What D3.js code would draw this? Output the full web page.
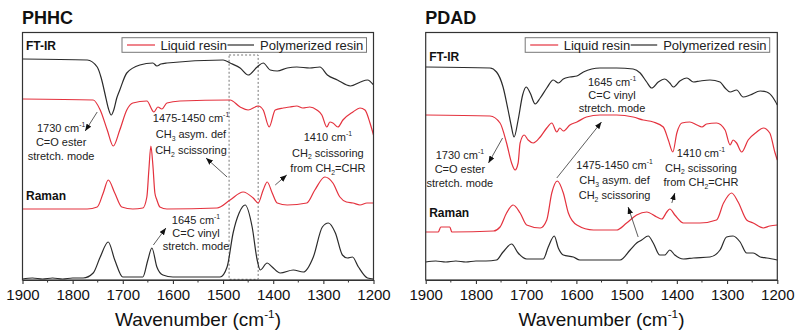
<!DOCTYPE html>
<html><head><meta charset="utf-8">
<script src="https://cdn.jsdelivr.net/npm/d3@7"></script>
<style>
body{margin:0;background:#fff;}
svg{display:block;font-family:"Liberation Sans",Arial,Helvetica,sans-serif;}
</style>
</head><body>
<svg id="c" width="797" height="334"></svg>
<script>
// ---------- data ----------
const panelTitles = ["PHHC", "PDAD"];
const seriesNames = ["Liquid resin", "Polymerized resin"];
const majorTicks = [1900, 1800, 1700, 1600, 1500, 1400, 1300, 1200];
const minorTicks = [1850, 1750, 1650, 1550, 1450, 1350, 1250];
const xTitle = "Wavenumber (cm^{-1})";

// [wavenumber, intensity (a.u., stacked)]
const phhcIrPolymer = [[1900,221],[1771,220],[1751,213],[1743,202],[1735,185],[1729,172],[1723,165],[1718,170],[1712,182],[1706,190],[1692,207],[1666,215],[1640,217],[1632,214],[1624,216],[1612,217],[1500,220],[1486,217],[1466,212],[1450,205],[1432,213],[1420,217],[1406,210],[1392,209],[1372,212],[1353,213],[1327,212],[1307,213],[1292,205],[1272,200],[1246,194],[1226,198],[1212,200],[1200,195]];
const phhcIrLiquid = [[1900,181],[1759,180],[1745,170],[1731,150],[1719,134],[1706,150],[1692,170],[1680,177],[1652,179],[1638,168],[1630,173],[1622,171],[1612,177],[1586,179],[1486,180],[1466,173],[1450,170],[1430,174],[1420,170],[1408,153],[1396,170],[1380,172],[1367,173],[1353,174],[1341,172],[1327,173],[1313,170],[1303,165],[1293,153],[1287,158],[1281,157],[1271,153],[1261,160],[1241,168],[1227,172],[1217,170],[1207,157],[1200,145]];
const phhcRamanLiquid = [[1900,71],[1771,71],[1751,73],[1739,87],[1729,100],[1716,87],[1702,73],[1680,71],[1660,72],[1652,83],[1648,110],[1644,134],[1640,115],[1636,87],[1632,80],[1626,73],[1612,71],[1512,72],[1486,80],[1460,88],[1440,82],[1430,77],[1420,90],[1412,98],[1402,87],[1392,77],[1372,75],[1333,77],[1317,90],[1297,103],[1281,97],[1267,83],[1254,78],[1241,77],[1227,75],[1213,77],[1200,77]];
const phhcRamanPolymer = [[1900,1],[1880,2],[1860,1],[1840,2],[1820,1],[1800,2],[1779,2],[1759,7],[1745,23],[1729,38],[1716,20],[1700,3],[1660,3],[1650,20],[1642,32],[1632,13],[1620,5],[1600,3],[1506,3],[1492,13],[1480,47],[1468,67],[1456,75],[1442,53],[1432,20],[1426,10],[1412,17],[1402,13],[1386,7],[1360,10],[1340,8],[1320,23],[1302,53],[1290,57],[1276,47],[1262,25],[1252,22],[1242,23],[1230,13],[1212,2],[1200,1]];

const pdadIrPolymer = [[1900,213],[1772,212],[1759,208],[1746,193],[1736,170],[1730,155],[1724,143],[1716,160],[1707,185],[1700,193],[1692,187],[1682,176],[1672,182],[1659,192],[1646,200],[1636,197],[1626,201],[1613,203],[1599,204],[1586,208],[1553,212],[1520,212],[1487,211],[1473,207],[1460,198],[1450,192],[1437,198],[1424,201],[1414,197],[1407,193],[1394,199],[1380,202],[1367,198],[1354,199],[1334,200],[1314,198],[1304,192],[1294,188],[1281,190],[1268,183],[1254,185],[1234,189],[1221,188],[1208,182],[1200,175]];
const pdadIrLiquid = [[1900,165],[1772,164],[1752,157],[1739,137],[1729,117],[1722,110],[1716,117],[1712,137],[1704,145],[1696,140],[1686,137],[1672,143],[1659,152],[1649,157],[1639,148],[1633,152],[1626,149],[1613,155],[1599,158],[1580,163],[1553,165],[1520,165],[1487,163],[1467,160],[1447,158],[1427,153],[1417,140],[1408,128],[1400,147],[1390,157],[1374,158],[1360,155],[1350,153],[1341,156],[1321,157],[1304,150],[1294,135],[1288,140],[1281,137],[1271,128],[1258,140],[1241,148],[1228,152],[1215,147],[1205,128],[1200,120]];
const pdadRamanLiquid = [[1900,48],[1875,48],[1870,53],[1852,53],[1848,48],[1765,49],[1752,53],[1739,67],[1726,75],[1712,67],[1699,55],[1672,52],[1659,60],[1649,87],[1638,99],[1626,87],[1616,67],[1599,55],[1566,50],[1520,50],[1500,57],[1480,65],[1460,68],[1440,63],[1430,61],[1420,68],[1414,71],[1404,65],[1387,57],[1354,57],[1321,60],[1307,77],[1291,87],[1278,78],[1261,60],[1248,57],[1228,52],[1215,54],[1200,55]];
const pdadRamanPolymer = [[1900,18],[1880,19],[1860,18],[1840,19],[1820,18],[1800,19],[1780,19],[1759,20],[1746,28],[1729,36],[1716,27],[1699,21],[1666,21],[1656,33],[1644,44],[1636,32],[1626,25],[1606,23],[1593,20],[1513,20],[1493,30],[1480,37],[1470,40],[1457,44],[1447,37],[1434,25],[1424,25],[1414,30],[1404,25],[1387,21],[1367,22],[1334,23],[1314,30],[1301,43],[1288,44],[1274,38],[1261,27],[1248,27],[1234,23],[1221,22],[1200,20]];

// highlighted region (PHHC): wavenumber range & intensity range
const phhcBoxWn = [1488, 1430];
const phhcBoxInt = [225, 0.7];

// annotations: anchor [wn, intensity] of first baseline, text lines, arrow [from, to]
const phhcNotes = [
  {at:[1823,148], lh:14, lines:["1730 cm^{-1}","C=O ester","stretch. mode"], arrow:[[1751,168],[1775,149]]},
  {at:[1564,158], lh:16, lines:["1475-1450 cm^{-1}","CH_{3} asym. def","CH_{2} scissoring"], arrow:[[1492,103],[1534,122]]},
  {at:[1291,139], lh:15.5, lines:["1410 cm^{-1}","CH_{2} scissoring","from CH_{2}=CHR"], arrow:[[1396,95],[1373,105]]},
  {at:[1554,56], lh:13, lines:["1645 cm^{-1}","C=C vinyl","stretch. mode"], arrow:[[1639,35],[1614,52]]}
];
const pdadNotes = [
  {at:[1529,194], lh:13, lines:["1645 cm^{-1}","C=C vinyl","stretch. mode"], arrow:[[1639,102],[1550,158]]},
  {at:[1832,121], lh:14, lines:["1730 cm^{-1}","C=O ester","stretch. mode"], arrow:[[1747,142],[1775,117]]},
  {at:[1524,111], lh:15, lines:["1475-1450 cm^{-1}","CH_{3} asym. def","CH_{2} scissoring"], arrow:[[1477,43],[1497,73]]},
  {at:[1352,123], lh:14.5, lines:["1410 cm^{-1}","CH_{2} scissoring","from CH_{2}=CHR"], arrow:[[1410,77],[1404,87]]}
];

// ---------- drawing ----------
const RED = "#e4323e", BLACK = "#2b2b2b";
const svg = d3.select("#c");
svg.append("rect").attr("width",797).attr("height",334).attr("fill","#fff");

const defs = svg.append("defs");
defs.append("marker").attr("id","ah").attr("viewBox","0 0 10 8")
  .attr("refX",10).attr("refY",4).attr("markerWidth",7).attr("markerHeight",5.6)
  .attr("markerUnits","userSpaceOnUse").attr("orient","auto")
  .append("path").attr("d","M0,0 L10,4 L0,8 Z").attr("fill","#111");

function richText(sel, str, fs){
  // parse ^{..} and _{..}
  const re = /(\^\{[^}]*\}|_\{[^}]*\})/g;
  const parts = str.split(re).filter(s=>s.length);
  let shift = 0;
  parts.forEach(p=>{
    let t = p, target = 0, small = false;
    if (p.startsWith("^{")) { t = p.slice(2,-1); target = -0.42*fs; small = true; }
    else if (p.startsWith("_{")) { t = p.slice(2,-1); target = 0.25*fs; small = true; }
    const ts = sel.append("tspan").text(t).attr("dy", target - shift);
    if (small) ts.attr("font-size", fs*0.62);
    shift = target;
  });
}

const panels = [
  {title:panelTitles[0], x0:22.5, x1:373.5, ir:[phhcIrLiquid, phhcIrPolymer], raman:[phhcRamanLiquid, phhcRamanPolymer], notes:phhcNotes, box:true, ftirY:49.5, ramanY:199.5},
  {title:panelTitles[1], x0:425.7, x1:777.3, ir:[pdadIrLiquid, pdadIrPolymer], raman:[pdadRamanLiquid, pdadRamanPolymer], notes:pdadNotes, box:false, ftirY:61, ramanY:217}
];
const yTop = 32.5, yBot = 280;

panels.forEach(P=>{
  const g = svg.append("g");
  const x = d3.scaleLinear().domain([1900,1200]).range([P.x0, P.x1]);
  const y = d3.scaleLinear().domain([0, yBot-yTop]).range([yBot, yTop]);

  const line = d3.line().x(d=>x(d[0])).y(d=>y(d[1])).curve(d3.curveMonotoneX);

  // highlighted box
  if (P.box) {
    g.append("rect")
      .attr("x", x(phhcBoxWn[0])).attr("y", y(phhcBoxInt[0]))
      .attr("width", x(phhcBoxWn[1]) - x(phhcBoxWn[0]))
      .attr("height", y(phhcBoxInt[1]) - y(phhcBoxInt[0]))
      .attr("fill","none").attr("stroke","#777").attr("stroke-width",1)
      .attr("stroke-dasharray","2,2");
  }

  // spectra
  [[P.ir[1],BLACK],[P.ir[0],RED],[P.raman[0],RED],[P.raman[1],BLACK]].forEach(([d,c])=>{
    g.append("path").datum(d).attr("d",line).attr("fill","none")
      .attr("stroke",c).attr("stroke-width",1.2).attr("stroke-linejoin","round");
  });

  // frame
  g.append("rect").attr("x",P.x0).attr("y",yTop).attr("width",P.x1-P.x0).attr("height",yBot-yTop)
    .attr("fill","none").attr("stroke","#333").attr("stroke-width",1.2);

  // axis
  const ax = g.append("g").attr("transform",`translate(0,${yBot})`)
    .call(d3.axisBottom(x).tickValues(majorTicks).tickFormat(d3.format("d")).tickSize(4).tickSizeOuter(0).tickPadding(5.5));
  ax.select(".domain").attr("stroke","#333").attr("stroke-width",1.2);
  ax.selectAll(".tick line").attr("stroke","#333").attr("stroke-width",1.1);
  ax.selectAll(".tick text").attr("font-size",15).attr("fill","#111")
    .attr("font-family",'"Liberation Sans",Arial,sans-serif');
  g.append("g").selectAll("line").data(minorTicks).join("line")
    .attr("x1",d=>x(d)).attr("x2",d=>x(d)).attr("y1",yBot).attr("y2",yBot+2.5)
    .attr("stroke","#333").attr("stroke-width",1);

  // axis title
  const xt = g.append("text").attr("x",(P.x0+P.x1)/2).attr("y",326).attr("text-anchor","middle")
    .attr("font-size",19).attr("fill","#111");
  richText(xt, xTitle, 19);

  // panel title
  g.append("text").attr("x",P.x0-0.5).attr("y",24).attr("font-size",18).attr("font-weight","bold")
    .attr("fill","#111").text(P.title);

  // section labels
  g.append("text").attr("x",P.x0+3.5).attr("y",P.ftirY).attr("font-size",12).attr("font-weight","bold")
    .attr("fill","#111").text("FT-IR");
  g.append("text").attr("x",P.x0+3.5).attr("y",P.ramanY).attr("font-size",12).attr("font-weight","bold")
    .attr("fill","#111").text("Raman");

  // legend
  const lx = P.x0 + 99.5;
  g.append("rect").attr("x",lx).attr("y",37.7).attr("width",244.5).attr("height",14.6)
    .attr("fill","#fff").attr("stroke","#777").attr("stroke-width",1);
  g.append("line").attr("x1",lx+5).attr("x2",lx+33).attr("y1",45).attr("y2",45).attr("stroke",RED).attr("stroke-width",1.2);
  g.append("text").attr("x",lx+38.5).attr("y",49.6).attr("font-size",13).attr("fill","#222").text(seriesNames[0]);
  g.append("line").attr("x1",lx+105.5).attr("x2",lx+132).attr("y1",45).attr("y2",45).attr("stroke",BLACK).attr("stroke-width",1.2);
  g.append("text").attr("x",lx+138).attr("y",49.6).attr("font-size",13).attr("fill","#222").text(seriesNames[1]);

  // annotations
  P.notes.forEach(n=>{
    const cx = x(n.at[0]), by = y(n.at[1]);
    n.lines.forEach((ln,i)=>{
      const t = g.append("text").attr("x",cx).attr("y",by + i*n.lh).attr("text-anchor","middle")
        .attr("font-size",11).attr("fill","#222");
      richText(t, ln, 11);
    });
    g.append("line")
      .attr("x1",x(n.arrow[0][0])).attr("y1",y(n.arrow[0][1]))
      .attr("x2",x(n.arrow[1][0])).attr("y2",y(n.arrow[1][1]))
      .attr("stroke","#333").attr("stroke-width",0.8).attr("marker-end","url(#ah)");
  });
});
</script>
</body></html>
